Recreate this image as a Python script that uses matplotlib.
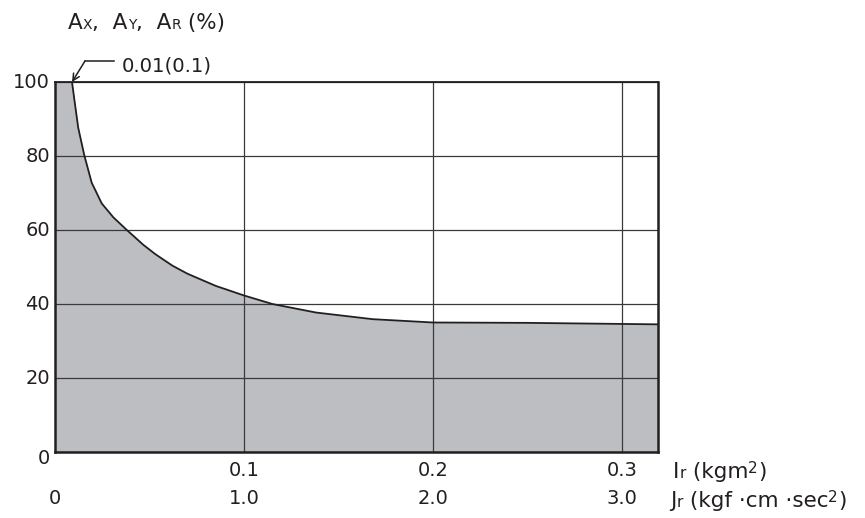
import matplotlib
matplotlib.use('Agg')
import matplotlib.pyplot as plt
import matplotlib.transforms as mtransforms
from matplotlib.lines import Line2D

# ── Data ─────────────────────────────────────────────────────────────────────
ir_vals  = [0.009, 0.0106, 0.0123, 0.0155, 0.0194, 0.0247, 0.0309, 0.038,
            0.0467, 0.053, 0.062, 0.070, 0.085, 0.100, 0.115, 0.138,
            0.168, 0.200, 0.250, 0.319]
pct_vals = [100, 93.9, 87.6, 80.2, 72.8, 67.2, 63.4, 60,
            56.0, 53.5, 50.4, 48.2, 44.9, 42.3, 40.0, 37.7,
            35.9, 35.0, 34.9, 34.5]

y_ticks    = [0, 20, 40, 60, 80, 100]
ir_ticks   = [0.1, 0.2, 0.3]
ir_labels  = ['0.1', '0.2', '0.3']
jr_ticks   = [0.0, 0.1, 0.2, 0.3]
jr_labels  = ['0', '1.0', '2.0', '3.0']
x_max      = 0.319
note_text  = '0.01(0.1)'

FILL  = '#bdbec2'
INK   = '#231f20'
GRID  = '#3a3a3a'
FS    = 14
SM    = 10

plt.rcParams['font.family'] = ['DejaVu Sans']

fig = plt.figure(figsize=(8.65, 5.18), dpi=100)
W, H = 865, 518
ax = fig.add_axes([55 / W, 1 - 452 / H, 603 / W, 370 / H])

ax.fill_between([0] + ir_vals, [100] + pct_vals, 0, color=FILL, lw=0, zorder=1)
ax.plot(ir_vals, pct_vals, color=INK, lw=1.3, zorder=3)

ax.set_xlim(0, x_max)
ax.set_ylim(0, 100)
ax.set_xticks(ir_ticks)
ax.set_yticks(y_ticks)
ax.grid(True, color=GRID, lw=0.9, zorder=2)
ax.set_axisbelow(False)
ax.tick_params(length=0, labelbottom=False, labelleft=False)
for side in ['left', 'bottom', 'right']:
    ax.spines[side].set_linewidth(1.8)
    ax.spines[side].set_color(INK)
ax.spines['top'].set_linewidth(1.3)
ax.spines['top'].set_color(INK)
for s in ax.spines.values():
    s.set_zorder(4)

# y tick labels
ytr = mtransforms.blended_transform_factory(fig.transFigure, ax.transData)
for v in y_ticks:
    dy = -6 / 100 * 72 if v == 0 else 0
    tr = mtransforms.offset_copy(ytr, fig=fig, y=dy, units='points')
    fig.text(50 / W, v, str(v), transform=tr, ha='right', va='center',
             fontsize=FS, color=INK)

# two rows of x tick labels
xtr = mtransforms.blended_transform_factory(ax.transData, fig.transFigure)
for v, lab in zip(ir_ticks, ir_labels):
    fig.text(v, 1 - 471 / H, lab, transform=xtr, ha='center', va='center',
             fontsize=FS, color=INK)
for v, lab in zip(jr_ticks, jr_labels):
    fig.text(v, 1 - 499 / H, lab, transform=xtr, ha='center', va='center',
             fontsize=FS, color=INK)

fig.canvas.draw()
renderer = fig.canvas.get_renderer()


def rich(x_px, base_px, parts):
    # parts: (text, size, raise in points)
    x = x_px / W
    for s, size, dy in parts:
        tr = mtransforms.offset_copy(fig.transFigure, fig=fig, y=dy, units='points')
        t = fig.text(x, 1 - base_px / H, s, transform=tr, fontsize=size,
                     ha='left', va='baseline', color=INK)
        x += t.get_window_extent(renderer).width / W


rich(68, 29.5, [('A', 15.5, 0), ('X', SM, 0), (',  A', 15.5, 0), ('Y', SM, 0),
                (',  A', 15.5, 0), ('R', SM, 0), (' (%)', 15.5, 0)])
rich(673, 478, [('I', 15.5, 0), ('r', 11, 0), (' (kgm', 15.5, 0),
                ('2', 11, 3.5), (')', 15.5, 0)])
rich(670, 507, [('J', 15.5, 0), ('r', 11, 0), (' (kgf \u00b7cm \u00b7sec', 15.5, 0),
                ('2', 11, 3.5), (')', 15.5, 0)])

# annotation with bent arrow
fig.text(121.5 / W, 1 - 71.5 / H, note_text, fontsize=14.2, ha='left',
         va='baseline', color=INK)
fig.add_artist(Line2D([85 / W, 114 / W], [1 - 61 / H, 1 - 61 / H],
                      transform=fig.transFigure, color=INK, lw=1.1))
ax.annotate('', xy=(ir_vals[0], pct_vals[0]), xycoords='data',
            xytext=(85 / W, 1 - 61 / H), textcoords='figure fraction',
            arrowprops=dict(arrowstyle='->', color=INK, lw=1.1,
                            shrinkA=0, shrinkB=0, mutation_scale=12),
            annotation_clip=False)

fig.savefig('out.png', dpi=100)
